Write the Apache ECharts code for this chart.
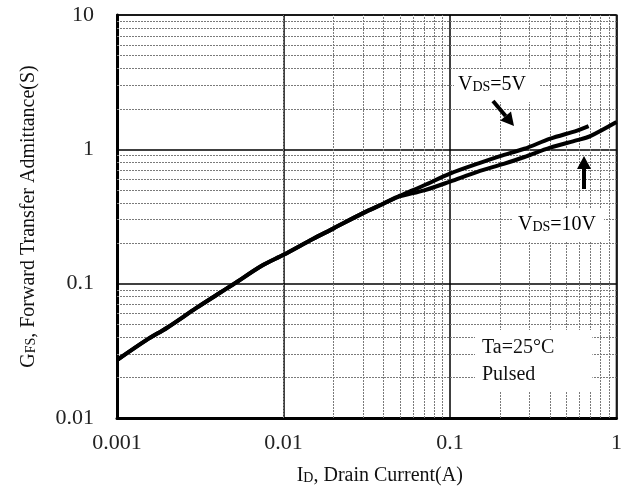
<!DOCTYPE html>
<html>
<head>
<meta charset="utf-8">
<script src="https://cdn.jsdelivr.net/npm/echarts@6/dist/echarts.min.js"></script>
<style>
  html, body { margin: 0; padding: 0; background: #fff; }
  #chart { width: 625px; height: 497px; }
</style>
</head>
<body>
<div id="chart"></div>
<script>
// Drain current (A) and forward transfer admittance (S)
const idShared   = [0.001, 0.0015, 0.002, 0.003, 0.004, 0.005, 0.0074, 0.01, 0.015, 0.02, 0.03, 0.04, 0.048];
const gfsShared  = [0.027, 0.038, 0.047, 0.066, 0.083, 0.099, 0.136, 0.164, 0.215, 0.258, 0.335, 0.395, 0.44];

const idVds5     = [0.048, 0.07, 0.1, 0.15, 0.2, 0.28, 0.4, 0.58, 0.68];
const gfsVds5    = [0.44, 0.54, 0.66, 0.79, 0.89, 1.01, 1.2, 1.38, 1.49];

const idVds10    = [0.048, 0.07, 0.1, 0.146, 0.21, 0.28, 0.4, 0.58, 0.69, 1.0];
const gfsVds10   = [0.44, 0.495, 0.575, 0.68, 0.78, 0.877, 1.03, 1.17, 1.25, 1.6];

const xTicks = [0.001, 0.01, 0.1, 1];
const yTicks = [0.01, 0.1, 1, 10];

const FONT = 'Liberation Serif';

function pairs(xs, ys) { return xs.map((x, i) => [x, ys[i]]); }

// minor grid values 2..9 within each decade
function minorValues(ticks) {
  const out = [];
  for (let d = 0; d < ticks.length - 1; d++) {
    for (let k = 2; k <= 9; k++) out.push(+(ticks[d] * k).toPrecision(3));
  }
  return out;
}

const minorLines = minorValues(xTicks).map(v => ({ xAxis: v }))
  .concat(minorValues(yTicks).map(v => ({ yAxis: v })));

const vds5Curve  = pairs(idShared, gfsShared).concat(pairs(idVds5, gfsVds5).slice(1));
const vds10Curve = pairs(idShared, gfsShared).concat(pairs(idVds10, gfsVds10).slice(1));

const chart = echarts.init(document.getElementById('chart'), null, { renderer: 'canvas' });

const subRich = {
  m: { fontFamily: FONT, fontSize: 20, color: '#111', verticalAlign: 'bottom' },
  s: { fontFamily: FONT, fontSize: 14, color: '#111', verticalAlign: 'bottom', padding: [0, 0, 1, 0] }
};

function arrow(x1, y1, x2, y2) {
  const ang = Math.atan2(y2 - y1, x2 - x1);
  const L = 13, W = 7;
  const bx = x2 - L * Math.cos(ang), by = y2 - L * Math.sin(ang);
  const px = -Math.sin(ang) * W, py = Math.cos(ang) * W;
  return [
    { type: 'line', z: 20, shape: { x1: x1, y1: y1, x2: bx, y2: by }, style: { stroke: '#000', lineWidth: 4 } },
    { type: 'polygon', z: 20, shape: { points: [[x2, y2], [bx + px, by + py], [bx - px, by - py]] }, style: { fill: '#000' } }
  ];
}

const option = {
  backgroundColor: '#fff',
  animation: false,
  grid: { left: 117, right: 5, top: 15, bottom: 79, show: true, borderColor: '#666', borderWidth: 2 },
  xAxis: {
    type: 'log', logBase: 10, min: 0.001, max: 1,
    name: '{m|I}{s|D}{m|, Drain Current(A)}',
    nameLocation: 'middle', nameGap: 48,
    nameTextStyle: { rich: subRich, padding: [0, 0, 0, 26] },
    axisLine: { show: true, lineStyle: { color: '#000', width: 3 } },
    axisTick: { show: false },
    axisLabel: { fontFamily: FONT, fontSize: 22, color: '#222', margin: 14,
                 formatter: v => String(+v.toPrecision(3)) },
    splitLine: { show: true, lineStyle: { color: '#000', width: 1.5 } }
  },
  yAxis: {
    type: 'log', logBase: 10, min: 0.01, max: 10,
    name: '{m|G}{s|FS}{m|, Forward Transfer Admittance(S)}',
    nameLocation: 'middle', nameGap: 78, nameRotate: 90,
    nameTextStyle: { rich: subRich },
    axisLine: { show: true, lineStyle: { color: '#000', width: 3 } },
    axisTick: { show: false },
    axisLabel: { fontFamily: FONT, fontSize: 22, color: '#222', margin: 23,
                 formatter: v => String(+v.toPrecision(3)) },
    splitLine: { show: true, lineStyle: { color: '#000', width: 1.5 } }
  },
  series: [
    {
      name: 'grid', type: 'line', data: [], z: 1, silent: true,
      markLine: {
        silent: true, symbol: 'none', animation: false,
        label: { show: false },
        lineStyle: { color: '#7a7a7a', width: 1, type: [2, 1] },
        data: minorLines
      }
    },
    {
      name: 'VDS=5V', type: 'line', data: vds5Curve, z: 5,
      showSymbol: false, smooth: 0.3,
      lineStyle: { color: '#000', width: 4 }
    },
    {
      name: 'VDS=10V', type: 'line', data: vds10Curve, z: 5,
      showSymbol: false, smooth: 0.3,
      lineStyle: { color: '#000', width: 4 }
    }
  ],
  graphic: [
    { type: 'text', z: 15, left: 454, top: 69,
      style: { text: '{m|V}{s|DS}{m|=5V}', rich: subRich, backgroundColor: '#fff', padding: [6, 14, 7, 4] } },
    { type: 'text', z: 15, left: 513, top: 209,
      style: { text: '{m|V}{s|DS}{m|=10V}', rich: subRich, backgroundColor: '#fff', padding: [6, 8, 7, 5] } },
    { type: 'text', z: 15, left: 475, top: 330,
      style: { text: 'Ta=25°C\nPulsed', fontFamily: FONT, fontSize: 20, lineHeight: 27, fill: '#111',
               backgroundColor: '#fff', padding: [4, 38, 3, 7] } }
  ].concat(arrow(493, 101, 514, 126)).concat(arrow(584, 189, 584, 156))
};

chart.setOption(option);
</script>
</body>
</html>
